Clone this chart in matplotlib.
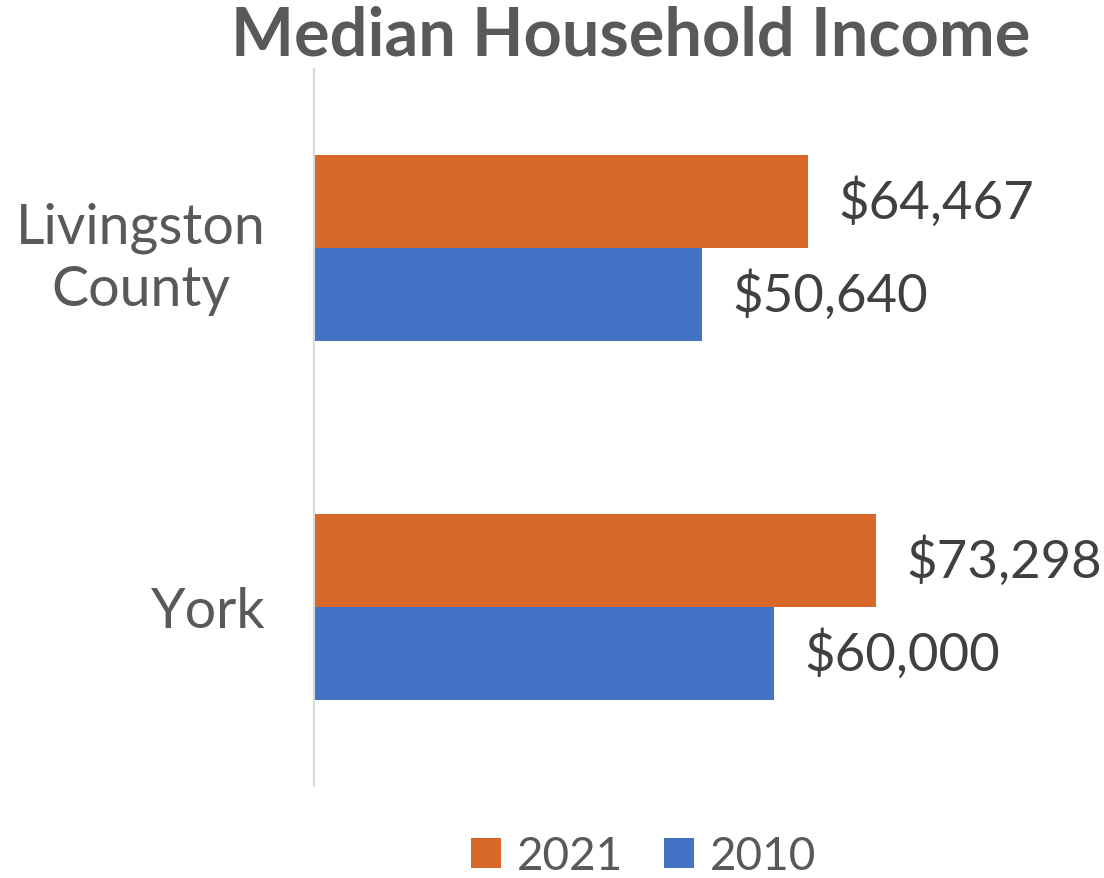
import matplotlib.pyplot as plt
from matplotlib.patches import Patch

# data
regions = ["York", "Livingston\nCounty"]
income_2021 = [73298, 64467]
income_2010 = [60000, 50640]
series_names = ["2021", "2010"]
colors = ["#D86827", "#4472C4"]

plt.rcParams['font.family'] = ['Lato', 'DejaVu Sans']

fig = plt.figure(figsize=(11.04, 8.79), dpi=100)
W, H = 1104, 879
ax = fig.add_axes([314 / W, 1 - 787 / H, 776 / W, 717 / H])

bar_h = 0.26
ypos = list(range(len(regions)))
b21 = ax.barh([y + bar_h / 2 for y in ypos], income_2021, height=bar_h,
              color=colors[0], edgecolor="none")
b10 = ax.barh([y - bar_h / 2 for y in ypos], income_2010, height=bar_h,
              color=colors[1], edgecolor="none")

for bars, vals in [(b21, income_2021), (b10, income_2010)]:
    for rect, v in zip(bars, vals):
        ax.annotate(f"${v:,}", (rect.get_width(), rect.get_y() + rect.get_height() / 2),
                    xytext=(22, 0), textcoords="offset points",
                    ha="left", va="center", fontsize=38, color="#404040")

ax.set_xlim(0, 101266)
ax.set_ylim(-0.5, 1.5)
ax.set_yticks(ypos)
ax.set_yticklabels(regions, fontsize=40, color="#595959",
                   multialignment="center", linespacing=1.25)
ax.tick_params(axis="y", length=0, pad=35)
ax.set_xticks([])

for s in ["top", "right", "bottom"]:
    ax.spines[s].set_visible(False)
ax.spines["left"].set_color("#D9D9D9")
ax.spines["left"].set_linewidth(1.5)

fig.text(631 / W, 1 - 55 / H, "Median Household Income", ha="center", va="baseline",
         fontsize=48, fontweight="bold", color="#595959")

handles = [Patch(facecolor=c, edgecolor="none") for c in colors]
fig.legend(handles, series_names, loc="center", bbox_to_anchor=(0.583, 1 - 857 / H),
           ncol=2, frameon=False, prop={"size": 33}, labelcolor="#595959",
           handlelength=0.65, handleheight=0.65, handletextpad=0.35, columnspacing=0.9)

fig.savefig("out.png", dpi=100)
